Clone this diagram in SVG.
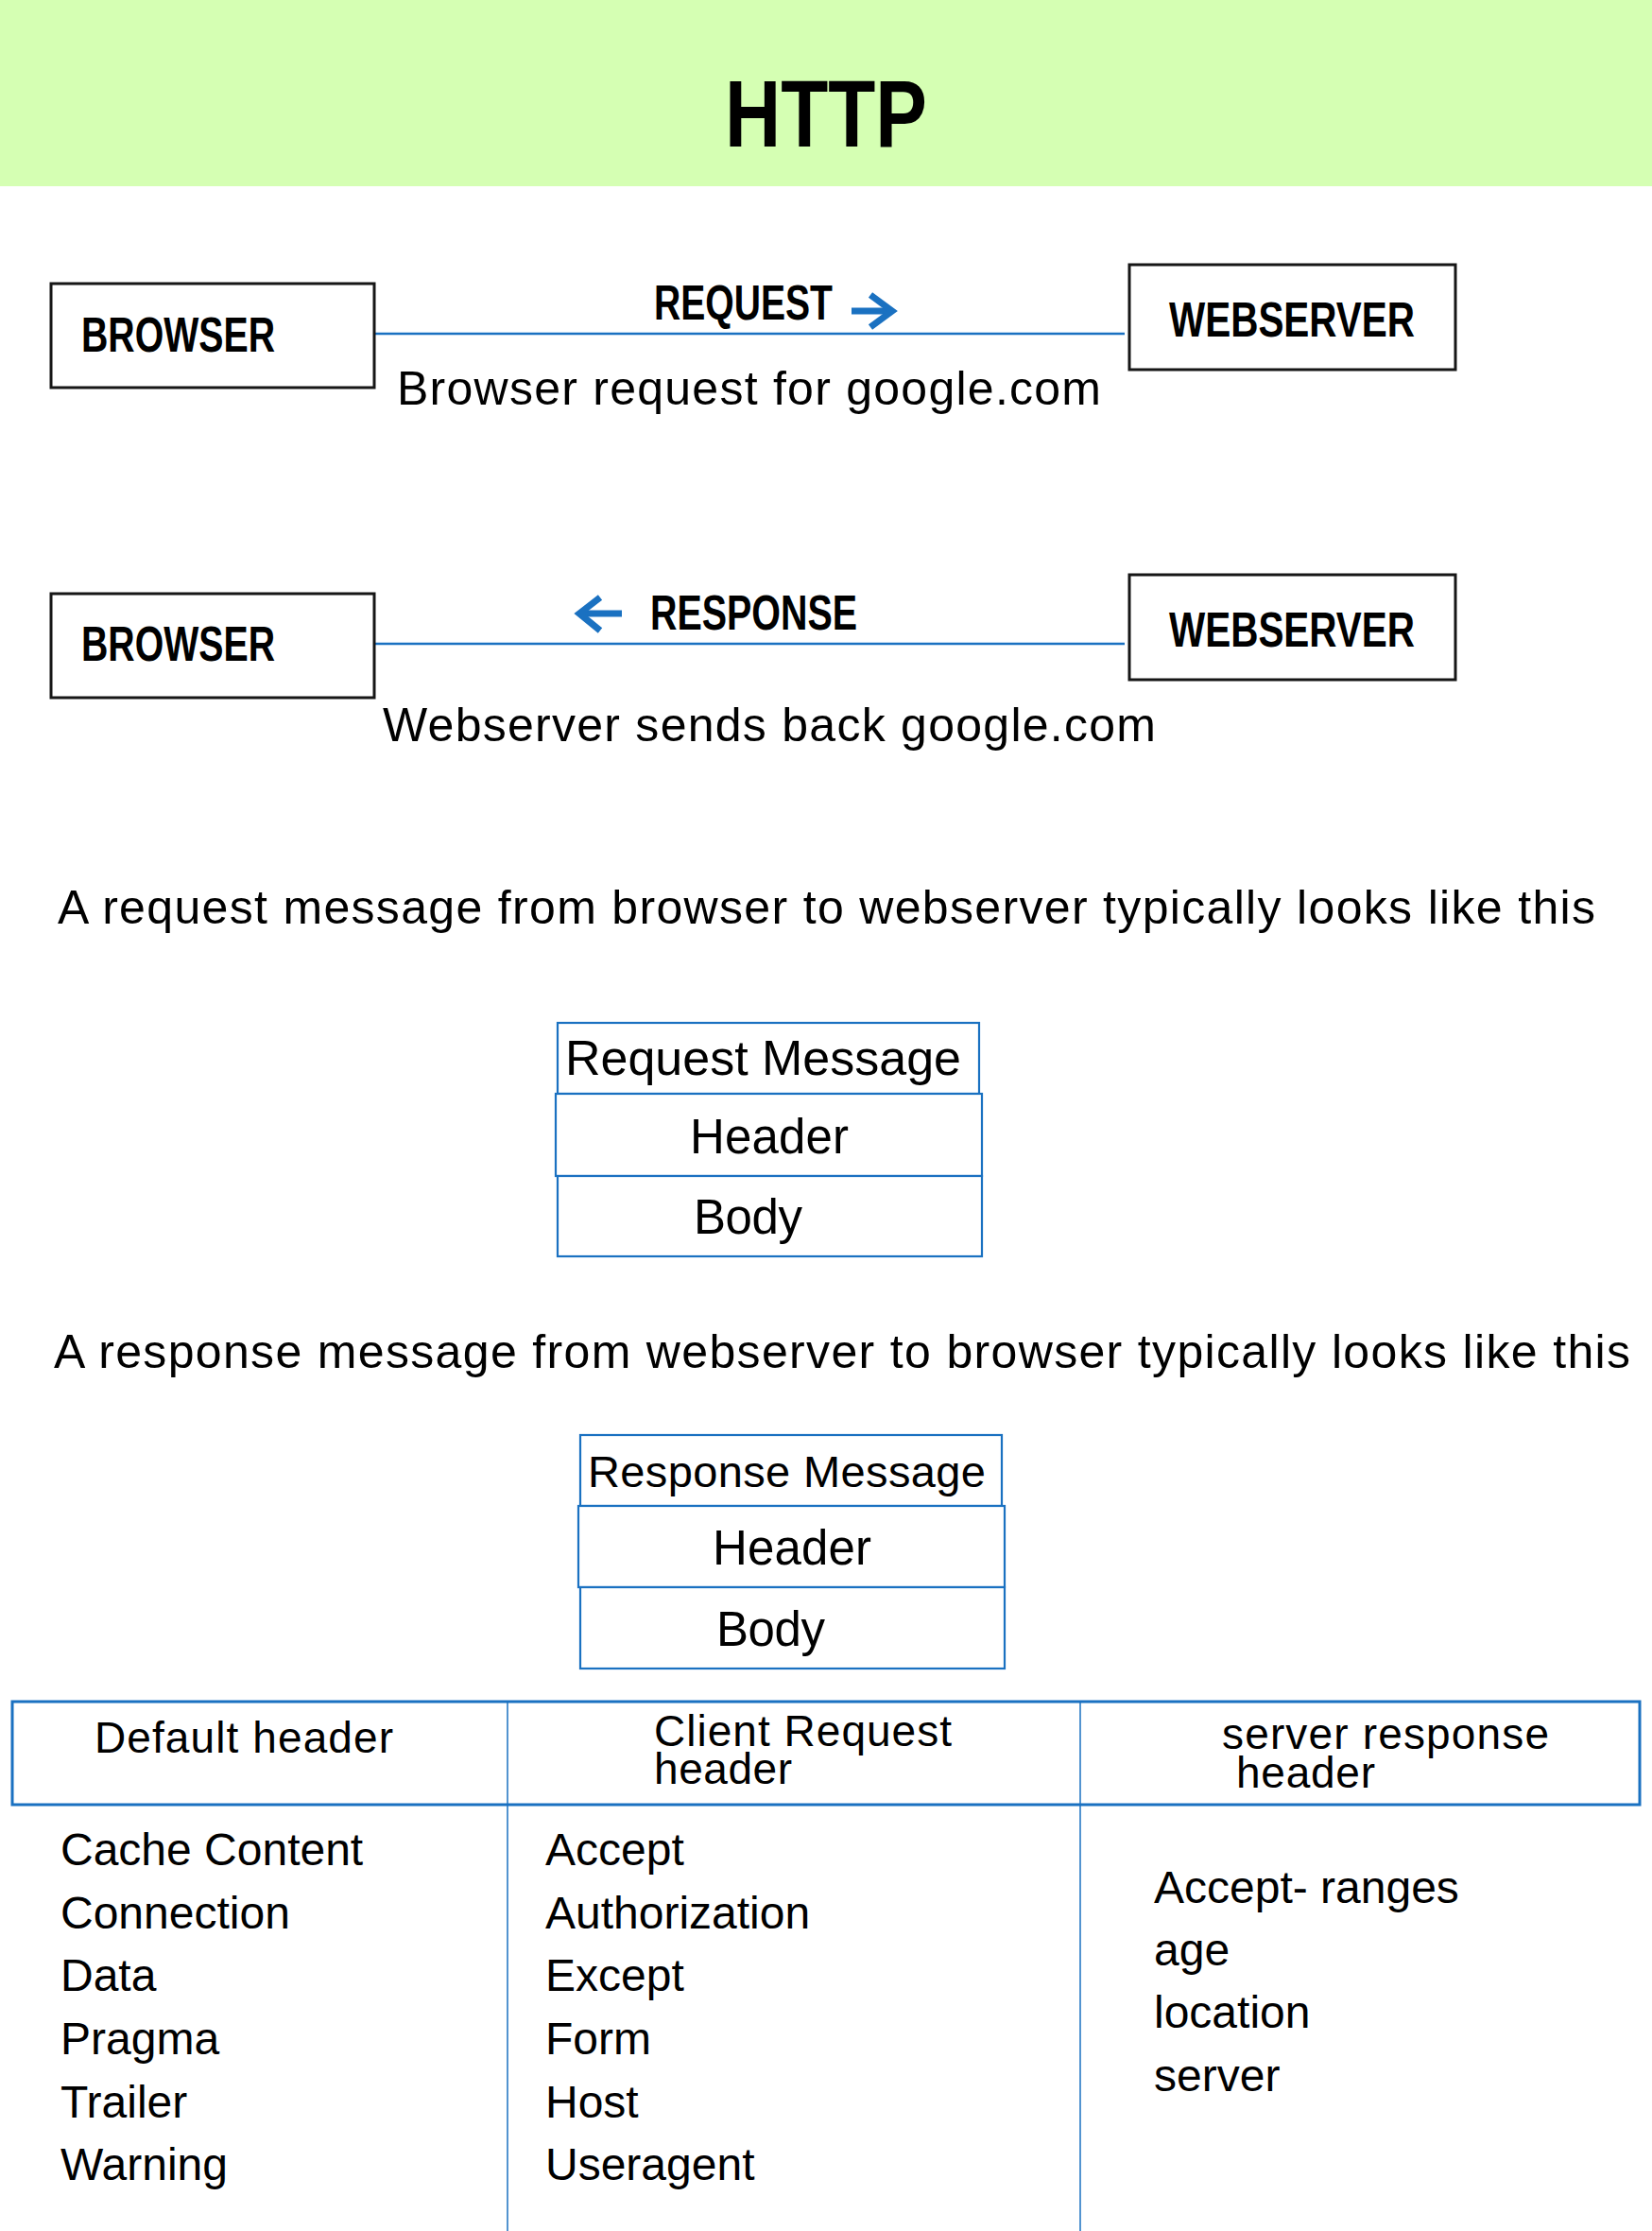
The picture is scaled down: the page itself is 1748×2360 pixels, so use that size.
<svg xmlns="http://www.w3.org/2000/svg" width="1748" height="2360" viewBox="0 0 1748 2360">
<style>
.box{fill:#fff;stroke:#161616;stroke-width:3}
.mbox{fill:#fff;stroke:#1a71c1;stroke-width:2.2}
.lbl{font-family:"Liberation Sans",Arial,sans-serif;font-weight:bold;font-size:52px;fill:#000}
.txt{font-family:"Liberation Sans",Arial,sans-serif;font-size:50px;fill:#000}
.th{font-family:"Liberation Sans",Arial,sans-serif;font-size:46px;fill:#000}
.li{font-family:"Liberation Sans",Arial,sans-serif;font-size:48px;fill:#000}
.conn{stroke:#1a71c1;stroke-width:2.5;fill:none}
.arr{stroke:#1a71c1;stroke-width:7;fill:none}
</style>
<rect x="0" y="0" width="1748" height="197" fill="#d5ffb3"/>
<text x="767" y="155" font-family="Liberation Sans,Arial,sans-serif" font-weight="bold" font-size="100" textLength="214" lengthAdjust="spacingAndGlyphs">HTTP</text>

<g id="connectors">
<line class="conn" x1="397" y1="353" x2="1190" y2="353"/>
<path class="arr" d="M901 329 H941"/>
<path class="arr" d="M921 312 L944 329 L921 346"/>
<line class="conn" x1="397" y1="681" x2="1190" y2="681"/>
<path class="arr" d="M616 649 H658"/>
<path class="arr" d="M635 632 L613 649 L635 667"/>
</g>

<g id="browser1">
<rect class="box" x="54" y="300" width="342" height="110"/>
<text class="lbl" x="86" y="372" textLength="205" lengthAdjust="spacingAndGlyphs">BROWSER</text>
</g>
<g id="webserver1">
<rect class="box" x="1195" y="280" width="345" height="111"/>
<text class="lbl" x="1237" y="356" textLength="260" lengthAdjust="spacingAndGlyphs">WEBSERVER</text>
</g>
<g id="request-label">
<text class="lbl" x="692" y="338" textLength="189" lengthAdjust="spacingAndGlyphs">REQUEST</text>
<text class="txt" x="420" y="428" textLength="745">Browser request for google.com</text>
</g>

<g id="browser2">
<rect class="box" x="54" y="628" width="342" height="110"/>
<text class="lbl" x="86" y="699" textLength="205" lengthAdjust="spacingAndGlyphs">BROWSER</text>
</g>
<g id="webserver2">
<rect class="box" x="1195" y="608" width="345" height="111"/>
<text class="lbl" x="1237" y="684" textLength="260" lengthAdjust="spacingAndGlyphs">WEBSERVER</text>
</g>
<g id="response-label">
<text class="lbl" x="688" y="666" textLength="219" lengthAdjust="spacingAndGlyphs">RESPONSE</text>
<text class="txt" x="405" y="784" textLength="818">Webserver sends back google.com</text>
</g>

<text class="txt" x="61" y="977" textLength="1627">A request message from browser to webserver typically looks like this</text>

<g id="request-message">
<rect class="mbox" x="590" y="1082" width="446" height="75"/>
<text x="598" y="1137" font-family="Liberation Sans,Arial,sans-serif" font-size="52" textLength="419">Request Message</text>
<rect class="mbox" x="588" y="1157" width="451" height="87"/>
<text x="730" y="1220" font-family="Liberation Sans,Arial,sans-serif" font-size="51" textLength="168">Header</text>
<rect class="mbox" x="590" y="1244" width="449" height="85"/>
<text x="734" y="1305" font-family="Liberation Sans,Arial,sans-serif" font-size="51" textLength="115">Body</text>
</g>

<text class="txt" x="57" y="1447" textLength="1668">A response message from webserver to browser typically looks like this</text>

<g id="response-message">
<rect class="mbox" x="614" y="1518" width="446" height="75"/>
<text x="622" y="1573" font-family="Liberation Sans,Arial,sans-serif" font-size="47" textLength="421">Response Message</text>
<rect class="mbox" x="612" y="1593" width="451" height="86"/>
<text x="754" y="1655" font-family="Liberation Sans,Arial,sans-serif" font-size="51" textLength="168">Header</text>
<rect class="mbox" x="614" y="1679" width="449" height="86"/>
<text x="758" y="1741" font-family="Liberation Sans,Arial,sans-serif" font-size="51" textLength="115">Body</text>
</g>

<g id="header-table">
<rect x="13" y="1800" width="1722" height="109" fill="#fff" stroke="#1a71c1" stroke-width="3"/>
<line x1="537" y1="1800" x2="537" y2="2360" stroke="#1a71c1" stroke-width="1.5"/>
<line x1="1143" y1="1800" x2="1143" y2="2360" stroke="#1a71c1" stroke-width="1.5"/>
<text class="th" x="100" y="1854" textLength="316">Default header</text>
<text class="th" x="692" y="1847" textLength="315">Client Request</text>
<text class="th" x="692" y="1887" textLength="146">header</text>
<text class="th" x="1293" y="1850" textLength="346">server response</text>
<text class="th" x="1308" y="1891" textLength="147">header</text>
</g>

<g id="default-header-list">
<text class="li" x="64" y="1973">Cache Content</text>
<text class="li" x="64" y="2040">Connection</text>
<text class="li" x="64" y="2106">Data</text>
<text class="li" x="64" y="2173">Pragma</text>
<text class="li" x="64" y="2240">Trailer</text>
<text class="li" x="64" y="2306">Warning</text>
</g>
<g id="client-request-list">
<text class="li" x="577" y="1973">Accept</text>
<text class="li" x="577" y="2040">Authorization</text>
<text class="li" x="577" y="2106">Except</text>
<text class="li" x="577" y="2173">Form</text>
<text class="li" x="577" y="2240">Host</text>
<text class="li" x="577" y="2306">Useragent</text>
</g>
<g id="server-response-list">
<text class="li" x="1221" y="2013">Accept- ranges</text>
<text class="li" x="1221" y="2079">age</text>
<text class="li" x="1221" y="2145">location</text>
<text class="li" x="1221" y="2212">server</text>
</g>
</svg>
